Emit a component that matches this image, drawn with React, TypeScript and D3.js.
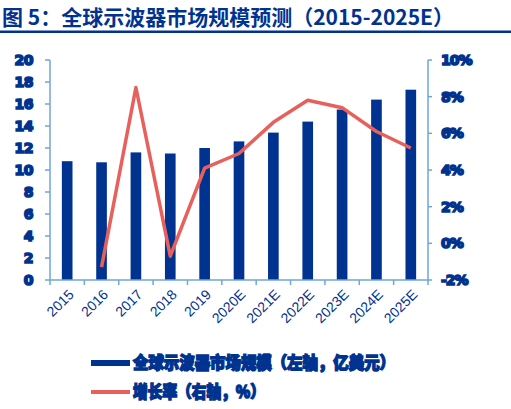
import * as d3 from 'd3'

const years = ['2015', '2016', '2017', '2018', '2019', '2020E', '2021E', '2022E', '2023E', '2024E', '2025E']
const marketSize = [10.8, 10.7, 11.6, 11.5, 12.0, 12.6, 13.4, 14.4, 15.5, 16.4, 17.3]
const growth = [null, -1.3, 8.5, -0.7, 4.1, 4.9, 6.6, 7.8, 7.4, 6.1, 5.2]
const leftTicks = [0, 2, 4, 6, 8, 10, 12, 14, 16, 18, 20]
const rightTicks = [-2, 0, 2, 4, 6, 8, 10]

const NAVY = '#00338f'
const AXIS = '#6fa6dc'
const RED = '#e8605c'
const HEAVY = '"DejaVu Sans", sans-serif'
const CJK = '"Noto Sans CJK SC", sans-serif'

export default function App() {
  const left = 50
  const right = 428
  const top = 60
  const bottom = 280

  const x = d3.scaleBand().domain(years).range([left, right]).paddingInner(0.69).paddingOuter(0.345)
  const band = (right - left) / years.length
  const yL = d3.scaleLinear().domain([0, 20]).range([bottom, top])
  const yR = d3.scaleLinear().domain([-2, 10]).range([bottom, top])

  const pts = years
    .map((yr, i) => ({ yr, v: growth[i] }))
    .filter((d) => d.v !== null) as { yr: string; v: number }[]
  const line = d3
    .line<{ yr: string; v: number }>()
    .x((d) => (x(d.yr) as number) + x.bandwidth() / 2)
    .y((d) => yR(d.v))

  return (
    <svg width={511} height={409} style={{ position: 'absolute', left: 0, top: 0, background: '#fff' }}>
      {/* title */}
      <text x={2} y={25} fill={NAVY} fontFamily={CJK} fontWeight={700} fontSize={21}>
        图 5：全球示波器市场规模预测（2015-2025E）
      </text>
      <rect x={0} y={30.5} width={511} height={2.5} fill={NAVY} />

      {/* bars */}
      {years.map((yr, i) => (
        <rect
          key={yr}
          x={x(yr)}
          y={yL(marketSize[i])}
          width={x.bandwidth()}
          height={bottom - yL(marketSize[i])}
          fill={NAVY}
        />
      ))}

      {/* growth line */}
      <path d={line(pts) ?? ''} fill="none" stroke={RED} strokeWidth={3.5} strokeLinejoin="round" />

      {/* left axis */}
      <line x1={left} x2={left} y1={top} y2={bottom} stroke={AXIS} strokeWidth={1.5} />
      {leftTicks.map((t) => (
        <g key={t}>
          <line x1={left - 5} x2={left} y1={yL(t)} y2={yL(t)} stroke={AXIS} strokeWidth={1.5} />
          <text
            x={33}
            y={yL(t)}
            dy="0.36em"
            textAnchor="end"
            fill={NAVY}
            stroke={NAVY}
            strokeWidth={1.6}
            fontFamily={HEAVY}
            fontWeight={700}
            fontSize={14}
            letterSpacing={-0.5}
          >
            {t}
          </text>
        </g>
      ))}

      {/* right axis */}
      <line x1={right} x2={right} y1={top} y2={bottom} stroke={AXIS} strokeWidth={1.5} />
      {rightTicks.map((t) => (
        <g key={t}>
          <line x1={right} x2={right + 4} y1={yR(t)} y2={yR(t)} stroke={AXIS} strokeWidth={1.5} />
          <text
            x={441}
            y={yR(t)}
            dy="0.36em"
            fill={NAVY}
            stroke={NAVY}
            strokeWidth={1.6}
            fontFamily={HEAVY}
            fontWeight={700}
            fontSize={14}
            letterSpacing={-1}
          >
            {t}%
          </text>
        </g>
      ))}

      {/* x axis */}
      <line x1={left} x2={right} y1={bottom} y2={bottom} stroke={AXIS} strokeWidth={1.5} />
      {d3.range(years.length + 1).map((i) => (
        <line key={i} x1={left + i * band} x2={left + i * band} y1={bottom} y2={bottom + 5} stroke={AXIS} strokeWidth={1.5} />
      ))}
      {years.map((yr) => {
        const cx = (x(yr) as number) + x.bandwidth() / 2 + 4
        return (
          <text
            key={yr}
            transform={`translate(${cx},${bottom + 12}) rotate(-45)`}
            textAnchor="end"
            dy="0.35em"
            fill={NAVY}
            fontFamily={'"Liberation Sans", Arial, sans-serif'}
            fontSize={14}
          >
            {yr}
          </text>
        )
      })}

      {/* legend */}
      <line x1={91} x2={130} y1={363} y2={363} stroke={NAVY} strokeWidth={6} />
      <text
        x={133}
        y={363}
        dy="0.36em"
        fill={NAVY}
        stroke={NAVY}
        strokeWidth={1.4}
        fontFamily={CJK}
        fontWeight={900}
        fontSize={16.5}
        textLength={262}
        lengthAdjust="spacingAndGlyphs"
      >
        全球示波器市场规模（左轴，亿美元）
      </text>
      <line x1={91} x2={130} y1={392} y2={392} stroke={RED} strokeWidth={4} />
      <text
        x={133}
        y={392}
        dy="0.36em"
        fill={NAVY}
        stroke={NAVY}
        strokeWidth={1.4}
        fontFamily={CJK}
        fontWeight={900}
        fontSize={16.5}
        textLength={132}
        lengthAdjust="spacingAndGlyphs"
      >
        增长率（右轴，%）
      </text>
    </svg>
  )
}
